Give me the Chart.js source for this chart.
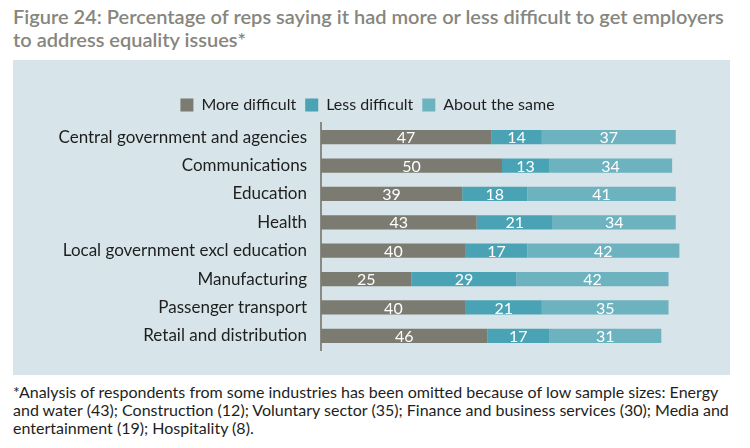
<!DOCTYPE html>
<html lang="en">
<head>
  <meta charset="UTF-8" />
  <title>Figure 24</title>
  <style>
    * { box-sizing: border-box; }
    body, html {
      margin: 0; padding: 0;
      width: 750px; height: 448px;
      background: #ffffff;
      font-family: Lato, 'Open Sans', sans-serif;
      position: relative;
      overflow: hidden;
    }
    h1 {
      position: absolute;
      left: 13px; top: 5px;
      margin: 0;
      width: 737px;
      font-size: 20px;
      font-weight: 600;
      line-height: 23px;
      color: #86867e;
      white-space: nowrap;
    }
    #panel {
      position: absolute;
      left: 13px; top: 60px;
      width: 717px; height: 315px;
      background: #d7e4e9;
    }
    #panel canvas { display: block; }
    p.note {
      position: absolute;
      left: 13px; top: 383px;
      margin: 0;
      font-size: 16px;
      line-height: 18px;
      color: #1e1e1e;
      white-space: nowrap;
    }
  </style>
</head>
<body>
  <h1>Figure 24: Percentage of reps saying it had more or less difficult to get employers<br>to address equality issues*</h1>

  <div id="panel">
    <canvas id="chart" width="717" height="315"></canvas>
  </div>

  <p class="note">*Analysis of respondents from some industries has been omitted because of low sample sizes: Energy<br>and water (43); Construction (12); Voluntary sector (35); Finance and business services (30); Media and<br>entertainment (19); Hospitality (8).</p>

  <script src="https://cdn.jsdelivr.net/npm/chart.js"></script>
  <script>
    const sectors = [
      'Central government and agencies',
      'Communications',
      'Education',
      'Health',
      'Local government excl education',
      'Manufacturing',
      'Passenger transport',
      'Retail and distribution'
    ];
    const moreDifficult = [47, 50, 39, 43, 40, 25, 40, 46];
    const lessDifficult = [14, 13, 18, 21, 17, 29, 21, 17];
    const aboutSame = [37, 34, 41, 34, 42, 42, 35, 31];

    // write the value in the middle of each bar segment
    const segmentLabels = {
      id: 'segmentLabels',
      afterDatasetsDraw(chart) {
        const c = chart.ctx;
        c.save();
        c.fillStyle = '#ffffff';
        c.font = '16px Lato, sans-serif';
        c.textAlign = 'center';
        c.textBaseline = 'middle';
        chart.data.datasets.forEach((ds, i) => {
          chart.getDatasetMeta(i).data.forEach((bar, j) => {
            const mid = (bar.x + bar.base) / 2;
            c.fillText(ds.data[j], mid, bar.y + 1);
          });
        });
        c.restore();
      }
    };

    new Chart(document.getElementById('chart'), {
      type: 'bar',
      data: {
        labels: sectors,
        datasets: [
          { label: 'More difficult', data: moreDifficult, backgroundColor: '#7b7b72' },
          { label: 'Less difficult', data: lessDifficult, backgroundColor: '#4aa3b4' },
          { label: 'About the same', data: aboutSame, backgroundColor: '#6db2bf' }
        ]
      },
      options: {
        indexAxis: 'y',
        responsive: false,
        animation: false,
        layout: { padding: { top: 28, right: 47, bottom: 25, left: 39 } },
        datasets: { bar: { barPercentage: 0.5, categoryPercentage: 1 } },
        scales: {
          x: { stacked: true, min: 0, max: 100, display: false },
          y: {
            stacked: true,
            afterFit(scale) { scale.width = 269; },
            grid: { display: false, drawTicks: false },
            border: { display: true, color: '#8a8a85', width: 2 },
            ticks: { color: '#1e1e1e', font: { family: 'Lato', size: 17 }, padding: 14 }
          }
        },
        plugins: {
          legend: {
            position: 'top',
            labels: {
              boxWidth: 13, boxHeight: 13,
              color: '#1e1e1e',
              font: { family: 'Lato', size: 16 },
              padding: 9
            }
          },
          tooltip: { enabled: false }
        }
      },
      plugins: [segmentLabels]
    });
  </script>
</body>
</html>
